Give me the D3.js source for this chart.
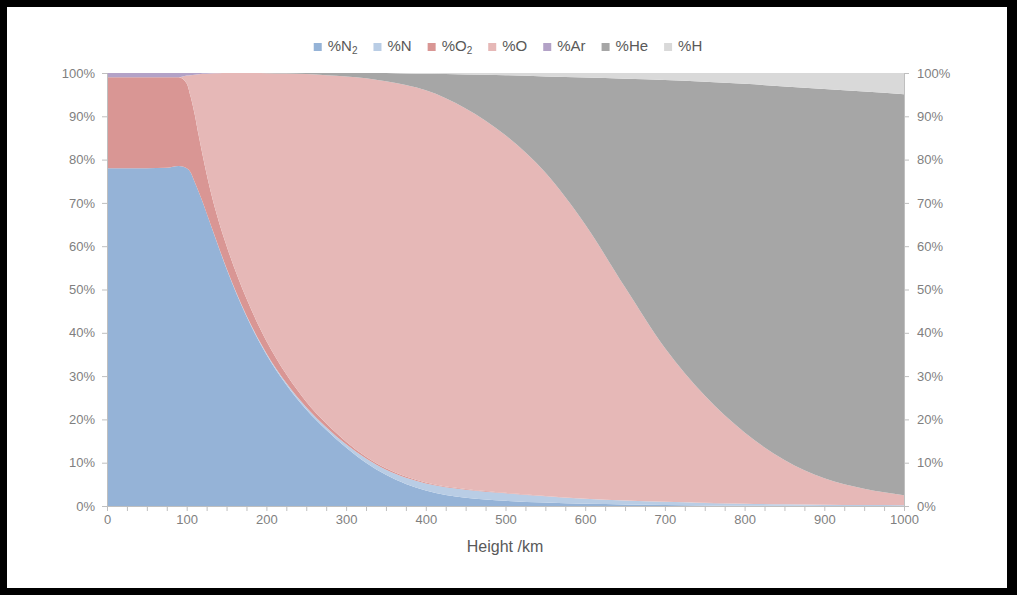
<!DOCTYPE html>
<html>
  <head>
    <meta charset="utf-8">
    <script src="https://d3js.org/d3.v7.min.js"></script>
    <style>
      body { margin: 0; background: #000; }
      .axis path, .axis line { stroke: #bfbfbf; }
      .axis text {
          font-family: "Liberation Sans", Arial, Helvetica, sans-serif;
          font-size: 13px;
          fill: #7f7f7f;
      }
      .legend text {
          font-family: "Liberation Sans", Arial, Helvetica, sans-serif;
          font-size: 15px;
          fill: #595959;
      }
      .title {
          font-family: "Liberation Sans", Arial, Helvetica, sans-serif;
          font-size: 16px;
          fill: #595959;
      }
    </style>
  </head>
  <body>
    <svg width="1017" height="595"></svg>
    <script>

    // heights (km) and percentage of each species
    var heights = [0, 25, 50, 75, 90, 100, 105, 110, 115, 120, 130, 140, 150, 175, 200, 225, 250, 275, 300,
                   325, 350, 375, 400, 450, 500, 550, 600, 650, 700, 750, 800, 850, 900, 950, 1000];
    var pN2 = [78, 78, 78, 78.1, 78.5, 78, 77, 74.8, 72.6, 70.2, 65, 59.8, 54.8, 43.8, 35, 28, 22.3, 17.6, 13.5,
               10, 7.2, 5.1, 3.6, 1.9, 1.2, 0.8, 0.5, 0.35, 0.22, 0.12, 0.06, 0.03, 0.02, 0.01, 0.01];
    var pN  = [0, 0, 0, 0, 0, 0, 0, 0, 0, 0, 0, 0.1, 0.1, 0.2, 0.3, 0.4, 0.5, 0.6, 0.75,
               0.95, 1.15, 1.4, 1.6, 1.85, 1.75, 1.45, 1.15, 0.9, 0.75, 0.6, 0.45, 0.35, 0.28, 0.22, 0.18];
    var pO2 = [21, 21, 21, 20.9, 20.5, 19.6, 17.5, 15.7, 13, 10.8, 7.7, 6, 5.2, 3.9, 2.8, 2, 1.3, 0.9, 0.6,
               0.45, 0.35, 0.3, 0.25, 0.18, 0.12, 0.08, 0.05, 0.04, 0.03, 0.02, 0.02, 0.01, 0.01, 0.01, 0.01];
    var pO  = [0, 0, 0, 0, 0, 1.8, 5, 9.1, 14.1, 18.8, 27.2, 34.05, 39.9, 52.1, 61.85, 69.48, 75.65, 80.4, 84.35,
               87.4, 89.4, 90.4, 90.55, 87.87, 82.53, 74.67, 63.3, 49.21, 35.5, 24.76, 16.47, 10.21, 6.09, 3.76, 2.3];
    var pAr = [1, 1, 1, 1, 1, 0.6, 0.5, 0.4, 0.3, 0.2, 0.1, 0.05, 0, 0, 0, 0, 0, 0, 0,
               0, 0, 0, 0, 0, 0, 0, 0, 0, 0, 0, 0, 0, 0, 0, 0];
    var pHe = [0, 0, 0, 0, 0, 0, 0, 0, 0, 0, 0, 0, 0, 0, 0.05, 0.12, 0.25, 0.5, 0.8,
               1.2, 1.9, 2.7, 3.8, 7.85, 13.9, 22.2, 33.95, 48.2, 61.9, 72.5, 80.5, 86.3, 89.9, 91.7, 92.6];
    var pH  = [0, 0, 0, 0, 0, 0, 0, 0, 0, 0, 0, 0, 0, 0, 0, 0, 0, 0, 0,
               0, 0, 0.1, 0.2, 0.35, 0.5, 0.8, 1.05, 1.3, 1.6, 2, 2.5, 3.1, 3.7, 4.3, 4.9];

    var keys = ["N2", "N", "O2", "O", "Ar", "He", "H"];
    var series = {N2: pN2, N: pN, O2: pO2, O: pO, Ar: pAr, He: pHe, H: pH};
    var colors = {N2: "#95b3d7", N: "#b9cde5", O2: "#d99694", O: "#e6b8b7", Ar: "#b3a2c7", He: "#a6a6a6", H: "#d9d9d9"};
    var labels = {N2: ["%N", "2"], N: ["%N", ""], O2: ["%O", "2"], O: ["%O", ""], Ar: ["%Ar", ""], He: ["%He", ""], H: ["%H", ""]};

    var data = heights.map(function(h, i) {
      var row = {h: h};
      keys.forEach(function(k) { row[k] = series[k][i]; });
      return row;
    });

    var svg = d3.select("svg");
    svg.append("rect").attr("x", 7).attr("y", 7).attr("width", 1000).attr("height", 581).attr("fill", "#fff");

    var x = d3.scaleLinear().domain([0, 1000]).range([107, 904]),
        y = d3.scaleLinear().domain([0, 1]).range([506, 73]);

    var stack = d3.stack().keys(keys).offset(d3.stackOffsetExpand);
    var layers = stack(data);

    var area = d3.area()
        .curve(d3.curveMonotoneX)
        .x(function(d) { return x(d.data.h); })
        .y0(function(d) { return y(d[0]); })
        .y1(function(d) { return y(d[1]); });

    svg.append("g").selectAll("path")
        .data(layers)
        .enter().append("path")
        .attr("d", area)
        .attr("fill", function(d) { return colors[d.key]; });

    var pct = d3.range(0, 1.01, 0.1);

    svg.append("g")
        .attr("class", "axis")
        .attr("transform", "translate(107,0)")
        .call(d3.axisLeft(y).tickValues(pct).tickFormat(d3.format(".0%")).tickSize(5).tickSizeOuter(0).tickPadding(7));

    svg.append("g")
        .attr("class", "axis")
        .attr("transform", "translate(904,0)")
        .call(d3.axisRight(y).tickValues(pct).tickFormat(d3.format(".0%")).tickSize(5).tickSizeOuter(0).tickPadding(8));

    svg.append("g")
        .attr("class", "axis")
        .attr("transform", "translate(0,506)")
        .call(d3.axisBottom(x).tickValues(d3.range(0, 1001, 25))
              .tickFormat(function(d) { return d % 100 === 0 ? d : ""; })
              .tickSize(5).tickSizeOuter(0).tickPadding(4));

    svg.append("text")
        .attr("class", "title")
        .attr("x", 505)
        .attr("y", 552)
        .attr("text-anchor", "middle")
        .text("Height /km");

    // legend, laid out left to right then centred
    var legend = svg.append("g").attr("class", "legend");
    var cx = 0;
    keys.forEach(function(k) {
      var item = legend.append("g").attr("transform", "translate(" + cx + ",0)");
      item.append("rect").attr("x", 0).attr("y", -8).attr("width", 8).attr("height", 8).attr("fill", colors[k]);
      var t = item.append("text").attr("x", 14).attr("y", 0);
      t.append("tspan").text(labels[k][0]);
      if (labels[k][1]) t.append("tspan").attr("dy", 3).attr("font-size", "10px").text(labels[k][1]);
      cx += 14 + t.node().getComputedTextLength() + 16;
    });
    legend.attr("transform", "translate(" + (508 - (cx - 16) / 2) + ",51)");

    </script>
  </body>
</html>
